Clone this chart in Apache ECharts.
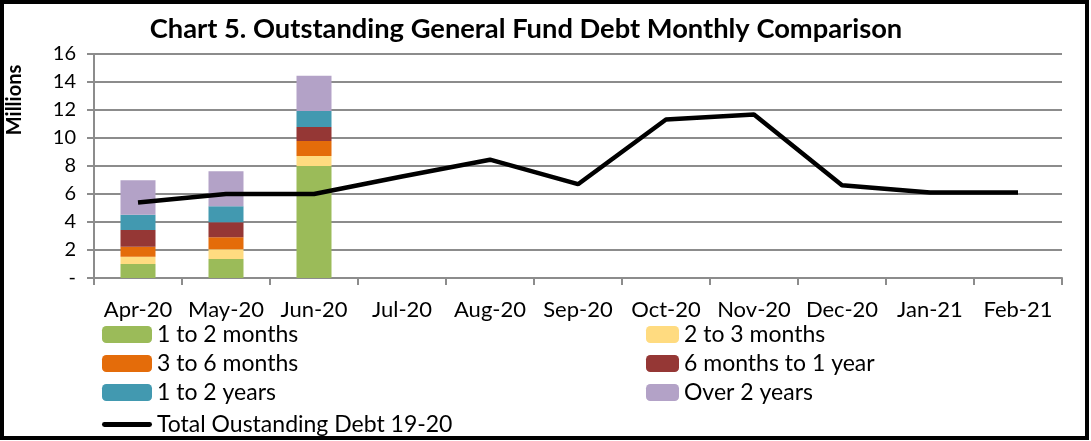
<!DOCTYPE html>
<html>
<head>
<meta charset="utf-8">
<script src="https://cdn.jsdelivr.net/npm/echarts@6/dist/echarts.min.js"></script>
<style>
html,body{margin:0;padding:0;background:#fff;}
#chart{width:1091px;height:441px;}
</style>
</head>
<body>
<div id="chart"></div>
<script>
const categories = ['Apr-20','May-20','Jun-20','Jul-20','Aug-20','Sep-20','Oct-20','Nov-20','Dec-20','Jan-21','Feb-21'];
const m1to2   = [1.0, 1.35, 8.0];
const m2to3   = [0.52, 0.71, 0.72];
const m3to6   = [0.71, 0.85, 1.06];
const m6to12  = [1.19, 1.07, 1.0];
const y1to2   = [1.1, 1.14, 1.14];
const over2   = [2.47, 2.5, 2.53];
const totalDebt = [5.4, 6.0, 6.0, 7.25, 8.45, 6.7, 11.32, 11.68, 6.63, 6.1, 6.1];
const yTicks = [0, 2, 4, 6, 8, 10, 12, 14, 16];

const FONT = 'Lato';
const chart = echarts.init(document.getElementById('chart'));

function bar(name, data, color) {
  return {name, type: 'bar', stack: 'debt', data, barWidth: 35,
    itemStyle: {color}, emphasis: {disabled: true}};
}
const legText = {fontFamily: FONT, fontSize: 23, color: '#000', lineHeight: 20};

chart.setOption({
  animation: false,
  textStyle: {fontFamily: FONT, color: '#000'},
  title: {
    text: 'Chart 5. Outstanding General Fund Debt Monthly Comparison',
    left: 521, textAlign: 'center', top: 11,
    textStyle: {fontFamily: FONT, fontWeight: 'bold', fontSize: 27.3, color: '#000'}
  },
  grid: {left: 94, right: 29, top: 54, bottom: 163, containLabel: false},
  xAxis: {
    type: 'category', data: categories, boundaryGap: true,
    axisLine: {lineStyle: {color: '#8c8c8c', width: 2}},
    axisTick: {show: true, length: 7, lineStyle: {color: '#8c8c8c', width: 2}},
    axisLabel: {fontFamily: FONT, fontSize: 22, color: '#000', margin: 21, interval: 0}
  },
  yAxis: {
    type: 'value', min: yTicks[0], max: yTicks[yTicks.length-1], interval: 2,
    axisLine: {show: true, lineStyle: {color: '#8c8c8c', width: 2}},
    axisTick: {show: true, length: 7, lineStyle: {color: '#8c8c8c', width: 2}},
    axisLabel: {fontFamily: FONT, fontSize: 20, color: '#000', margin: 18,
      formatter: v => v === 0 ? '-' : String(v)},
    splitLine: {show: true, lineStyle: {color: '#8c8c8c', width: 2}}
  },
  legend: [
    {orient: 'vertical', left: 97, top: 318, itemWidth: 50, itemHeight: 17, itemGap: 6,
     padding: 5, textStyle: legText,
     data: ['1 to 2 months', '3 to 6 months', '1 to 2 years']},
    {orient: 'vertical', left: 641, top: 318, itemWidth: 33, itemHeight: 17, itemGap: 6,
     padding: 5, textStyle: legText,
     data: ['2 to 3 months', '6 months to 1 year', 'Over 2 years']},
    {orient: 'vertical', left: 97, top: 408, itemWidth: 50, itemHeight: 17,
     padding: 5, textStyle: legText,
     data: [{name: 'Total Oustanding Debt 19-20', icon: 'path://M2,6 L48,6 A2.5,2.5 0 0 1 48,11 L2,11 A2.5,2.5 0 0 1 2,6 Z'}]}
  ],
  graphic: [
    {type: 'rect', shape: {x: 2, y: 2, width: 1085, height: 436},
     style: {fill: 'none', stroke: '#000', lineWidth: 4}, silent: true},
    {type: 'text', x: 15, y: 100, rotation: Math.PI / 2, silent: true,
     style: {text: 'Millions', fontFamily: FONT, fontWeight: 'bold', fontSize: 20, fill: '#000',
       align: 'center', verticalAlign: 'middle'}}
  ],
  series: [
    bar('1 to 2 months', m1to2, '#9BBB59'),
    bar('2 to 3 months', m2to3, '#FFDB80'),
    bar('3 to 6 months', m3to6, '#E46C0A'),
    bar('6 months to 1 year', m6to12, '#953735'),
    bar('1 to 2 years', y1to2, '#4299B0'),
    bar('Over 2 years', over2, '#B3A2C7'),
    {name: 'Total Oustanding Debt 19-20', type: 'line', data: totalDebt,
     symbol: 'none', lineStyle: {color: '#000', width: 4.5}, itemStyle: {color: '#000'},
     z: 5, emphasis: {disabled: true}}
  ]
});
</script>
</body>
</html>
